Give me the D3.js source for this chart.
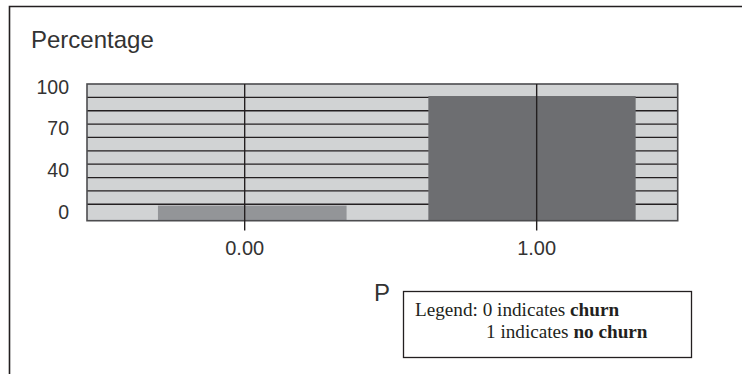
<!DOCTYPE html>
<html>
<head>
<meta charset="utf-8">
<script src="https://cdn.jsdelivr.net/npm/d3@7"></script>
<style>
  body { margin: 0; background: #fff; }
  svg { display: block; }
  .sans { font-family: "Liberation Sans", Arial, sans-serif; fill: #333; }
  .serif { font-family: "Liberation Serif", "Times New Roman", serif; fill: #231f20; }
</style>
</head>
<body>
<svg id="chart" width="742" height="374"></svg>
<script>
// histogram bins: P value bin edges and percentage
var binStart = [-0.297, 0.629];
var binEnd = [0.349, 1.339];
var percent = [9.0, 91.0];
var binFill = ['#939598', '#6d6e71'];

var xTicks = [0, 1];
var yTickLabels = ['100', '70', '40', '0'];
var gridValues = [10, 20, 30, 40, 50, 60, 70, 80, 90];

var svg = d3.select('#chart');

var plotLeft = 87, plotRight = 677.7, plotTop = 84, plotBottom = 220.7;

var x = d3.scaleLinear().domain([-0.54, 1.483]).range([plotLeft, plotRight]);
var y = d3.scaleLinear().domain([-2.3, 100]).range([plotBottom, plotTop]);
var yLabel = d3.scalePoint().domain(yTickLabels).range([86.7, 211.7]);

// outer frame (top and left only)
svg.append('path')
    .attr('d', 'M9.5,374 V6.5 H742')
    .attr('fill', 'none').attr('stroke', '#231f20').attr('stroke-width', 1.6);

svg.append('text').attr('class', 'sans')
    .attr('x', 31).attr('y', 47.5)
    .attr('font-size', 24)
    .text('Percentage');

// plot background
svg.append('rect')
    .attr('x', plotLeft).attr('y', plotTop)
    .attr('width', plotRight - plotLeft).attr('height', plotBottom - plotTop)
    .attr('fill', '#d1d3d4');

// horizontal grid lines
svg.append('g').selectAll('line').data(gridValues).join('line')
    .attr('x1', plotLeft).attr('x2', plotRight)
    .attr('y1', function (d) { return y(d); })
    .attr('y2', function (d) { return y(d); })
    .attr('stroke', '#231f20').attr('stroke-width', 1.3);

// bars
svg.append('g').selectAll('rect').data(percent).join('rect')
    .attr('x', function (d, i) { return x(binStart[i]); })
    .attr('width', function (d, i) { return x(binEnd[i]) - x(binStart[i]); })
    .attr('y', function (d) { return y(d); })
    .attr('height', function (d) { return plotBottom - y(d); })
    .attr('fill', function (d, i) { return binFill[i]; });

// plot frame
svg.append('rect')
    .attr('x', plotLeft).attr('y', plotTop)
    .attr('width', plotRight - plotLeft).attr('height', plotBottom - plotTop)
    .attr('fill', 'none').attr('stroke', '#4d4d4f').attr('stroke-width', 1.6);

// vertical tick lines
svg.append('g').selectAll('line').data(xTicks).join('line')
    .attr('x1', function (d) { return x(d); })
    .attr('x2', function (d) { return x(d); })
    .attr('y1', plotTop).attr('y2', 230.5)
    .attr('stroke', '#231f20').attr('stroke-width', 1.4);

// x tick labels
svg.append('g').selectAll('text').data(xTicks).join('text')
    .attr('class', 'sans')
    .attr('x', function (d) { return x(d); })
    .attr('y', 254.5)
    .attr('text-anchor', 'middle')
    .attr('font-size', 20)
    .text(function (d) { return d3.format('.2f')(d); });

// y tick labels
svg.append('g').selectAll('text').data(yTickLabels).join('text')
    .attr('class', 'sans')
    .attr('x', 69)
    .attr('y', function (d) { return yLabel(d); })
    .attr('dy', '0.36em')
    .attr('text-anchor', 'end')
    .attr('font-size', 19.5)
    .text(function (d) { return d; });

// axis title
svg.append('text').attr('class', 'sans')
    .attr('x', 374).attr('y', 301)
    .attr('font-size', 24)
    .text('P');

// legend
svg.append('rect')
    .attr('x', 403.5).attr('y', 291.5)
    .attr('width', 288).attr('height', 66)
    .attr('fill', 'none').attr('stroke', '#231f20').attr('stroke-width', 1.3);

var l1 = svg.append('text').attr('class', 'serif')
    .attr('x', 415).attr('y', 316).attr('font-size', 19.2);
l1.append('tspan').text('Legend: 0 indicates ');
l1.append('tspan').attr('font-weight', 'bold').text('churn');

var l2 = svg.append('text').attr('class', 'serif')
    .attr('x', 486).attr('y', 338).attr('font-size', 19.2);
l2.append('tspan').text('1 indicates ');
l2.append('tspan').attr('font-weight', 'bold').text('no churn');
</script>
</body>
</html>
